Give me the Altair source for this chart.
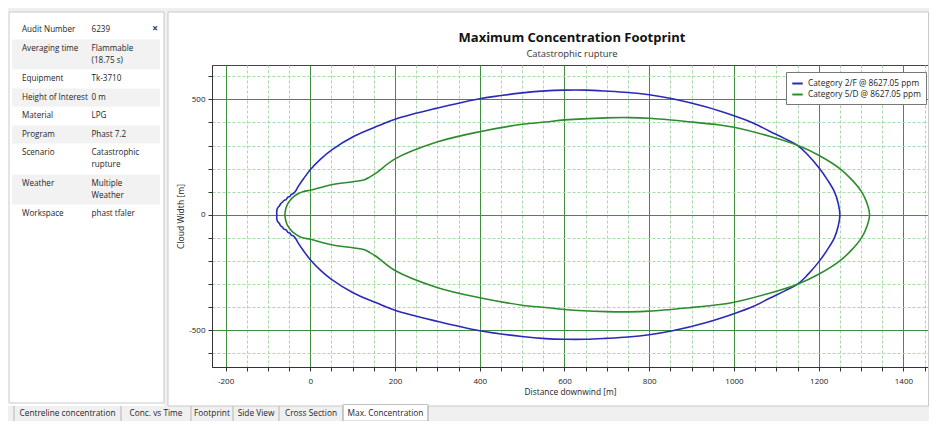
import altair as alt
import pandas as pd

# ---------------- data ----------------
SERIES = ["Category 2/F @ 8627.05 ppm", "Category 5/D @ 8627.05 ppm"]
COLORS = ["#2a2ab9", "#2e8b2e"]

# upper half of each footprint: distance downwind [m] -> cloud half-width [m]
blue_x = [-79, -79, -77, -73, -70, -66, -62, -57, -53, -48, -45, -40, -35, -28, -16, 0, 25, 50, 102, 156, 200,
          297, 400, 500, 555, 600, 650, 698, 750, 800, 855, 933, 1000, 1045, 1084, 1120, 1150, 1173, 1202, 1221,
          1237, 1246, 1250]
blue_y = [0, 18, 30, 38, 48, 54, 62, 66, 76, 80, 88, 92, 102, 124, 156, 195, 242, 280, 339, 382, 414,
          461, 503, 528, 537, 540, 540, 536, 530, 520, 503, 468, 429, 398, 362, 330, 301, 262, 200, 150,
          100, 50, 0]
green_x = [-60, -58, -54, -47, -39, -28, -16, 0, 50, 100, 128, 140, 155, 200, 297, 400, 500, 555, 600, 698,
           753, 800, 894, 967, 1000, 1084, 1150, 1201, 1250, 1279, 1301, 1314, 1320]
green_y = [0, 25, 45, 64, 79, 92, 101, 106, 130, 143, 152, 163, 180, 242, 314, 360, 392, 402, 411, 420,
           421, 418, 403, 389, 379, 340, 301, 257, 200, 150, 100, 50, 0]

x_ticks = list(range(-200, 1451, 50))
y_ticks = list(range(-600, 601, 100))
x_domain = [-232, 1458]
y_domain = [-660, 649]

title_text = "Maximum Concentration Footprint"
subtitle_text = "Catastrophic rupture"
x_title = "Distance downwind [m]"
y_title = "Cloud Width [m]"

info_labels = ["Audit Number", "Averaging time", "Equipment", "Height of Interest", "Material",
               "Program", "Scenario", "Weather", "Workspace"]
info_values = [["6239"], ["Flammable", "(18.75 s)"], ["Tk-3710"], ["0 m"], ["LPG"], ["Phast 7.2"],
               ["Catastrophic", "rupture"], ["Multiple", "Weather"], ["phast tfaler"]]
tab_names = ["Centreline concentration", "Conc. vs Time", "Footprint", "Side View", "Cross Section",
             "Max. Concentration"]

# ---------------- layout (page pixels) ----------------
FONT = "Open Sans"
PX0, PY0 = 212, 65          # plot-area origin on the page
W, H = 716, 302
SVG_W, SVG_H = 921, 413     # whole drawing, must fit inside the 8px page margins
MAJOR = "#3f8f3f"
MINOR = "#a9d9a9"
TAB_TOP, TAB_BOT = 406, 421


def rx(v):
    return v - PX0


def ry(v):
    return v - PY0


# ---------------- curves ----------------
rows = []
for name, xs, ys in ((SERIES[0], blue_x, blue_y), (SERIES[1], green_x, green_y)):
    upper = list(zip(xs, ys))
    lower = [(a, -b) for a, b in reversed(upper[:-1])]
    for i, (a, b) in enumerate(upper + lower):
        rows.append({"series": name, "x": a, "y": b, "i": i})
curves = pd.DataFrame(rows)

x_axis = alt.Axis(
    values=x_ticks, title=x_title,
    labelExpr="datum.value % 200 === 0 ? '' + datum.value : ''",
    labelOverlap=False, labelFlush=False, labelFont=FONT, labelFontSize=8, labelColor="#222",
    labelPadding=6, tickSize=4, tickColor="#333", domainColor="#333",
    titleFont=FONT, titleFontSize=8.4, titleFontWeight="normal", titleColor="#222", titlePadding=2,
    gridColor={"condition": {"test": "datum.value % 200 === 0", "value": MAJOR}, "value": MINOR},
    gridDash={"condition": {"test": "datum.value % 200 === 0", "value": []}, "value": [3, 2]},
    gridOpacity=1, gridWidth=1,
)
y_axis = alt.Axis(
    values=y_ticks, title=y_title,
    labelExpr="datum.value % 500 === 0 ? '' + datum.value : ''",
    labelOverlap=False, labelFlush=False, labelFont=FONT, labelFontSize=8, labelColor="#222",
    labelPadding=3, tickSize=4, tickColor="#333", domainColor="#333",
    titleFont=FONT, titleFontSize=8.6, titleFontWeight="normal", titleColor="#222", titlePadding=3,
    gridColor={"condition": {"test": "datum.value % 500 === 0", "value": MAJOR}, "value": MINOR},
    gridDash={"condition": {"test": "datum.value % 500 === 0", "value": []}, "value": [3, 2]},
    gridOpacity=1, gridWidth=1,
)

lines = alt.Chart(curves).mark_line(strokeWidth=1.6, clip=True, interpolate="catmull-rom").encode(
    x=alt.X("x:Q", scale=alt.Scale(domain=x_domain, nice=False, zero=False), axis=x_axis),
    y=alt.Y("y:Q", scale=alt.Scale(domain=y_domain, nice=False, zero=False), axis=y_axis),
    color=alt.Color(
        "series:N", scale=alt.Scale(domain=SERIES, range=COLORS), title=None,
        legend=alt.Legend(orient="none", legendX=rx(786), legendY=ry(72), fillColor="white",
                          strokeColor="#777", padding=5, labelFont=FONT, labelFontSize=8.3,
                          labelColor="#222", symbolType="stroke", symbolSize=110, symbolStrokeWidth=2,
                          rowPadding=0, labelOffset=4, labelLimit=300),
    ),
    order="i:Q",
)

# ---------------- surrounding application frame ----------------
def px(field):
    return alt.X(field, scale=None, axis=None)


def py(field):
    return alt.Y(field, scale=None, axis=None)


def rect_layer(boxes, **style):
    df = pd.DataFrame([{"a": rx(b[0]), "a2": rx(b[2]), "b": ry(b[1]), "b2": ry(b[3])} for b in boxes])
    return alt.Chart(df).mark_rect(**style).encode(x=px("a:Q"), x2="a2:Q", y=py("b:Q"), y2="b2:Q")


def text_layer(items, **style):
    df = pd.DataFrame([{"a": rx(t[0]), "b": ry(t[1]), "t": t[2]} for t in items])
    return alt.Chart(df).mark_text(**style).encode(x=px("a:Q"), y=py("b:Q"), text="t:N")


# gray window chrome (outside of the plot area only)
chrome = rect_layer([(8, 8, 929, 12), (8, TAB_TOP, 929, TAB_BOT), (164, 12, 168, TAB_TOP)], color="#f0f0f0")

# info panel rows
panel_texts, panel_bg = [], []
yc = 30.0
for k, (lab, vals) in enumerate(zip(info_labels, info_values)):
    top = yc - 9
    panel_texts.append((22, yc, lab))
    for j, v in enumerate(vals):
        panel_texts.append((91.5, yc + 12 * j, v))
    bottom = yc + 12 * (len(vals) - 1) + 9
    if k % 2 == 1:
        panel_bg.append((12, top, 160, bottom))
    yc += 18.5 + 12 * (len(vals) - 1)

panel_rows = rect_layer(panel_bg, color="#f2f2f2")
panel_box = rect_layer([(9, 12, 164, TAB_TOP - 3)], fillOpacity=0, stroke="#c9c9c9", strokeWidth=1)
chart_box = rect_layer([(168, 12, 928.5, TAB_TOP)], fillOpacity=0, stroke="#c9c9c9", strokeWidth=1)
panel_txt = text_layer(panel_texts, align="left", baseline="middle", font=FONT, fontSize=8.1, color="#1e1e1e")
close_txt = text_layer([(155, 29, "×")], align="center", baseline="middle", font=FONT, fontSize=10,
                       fontWeight="bold", color="#333")

# tabs
seps = [14, 121, 191, 233, 279, 343, 428]
sel_tab = rect_layer([(seps[-2], TAB_TOP - 1.5, seps[-1], TAB_BOT)], color="white", stroke="#c0c0c0",
                     strokeWidth=1)
tab_df = pd.DataFrame({"a": [rx(s) for s in seps], "b": [ry(TAB_TOP)] * len(seps),
                       "b2": [ry(TAB_BOT)] * len(seps)})
tab_seps = alt.Chart(tab_df).mark_rule(color="#b5b5b5", strokeWidth=1).encode(
    x=px("a:Q"), y=py("b:Q"), y2="b2:Q")
tab_txt = text_layer([((seps[i] + seps[i + 1]) / 2, (TAB_TOP + TAB_BOT) / 2 + 0.5, n)
                      for i, n in enumerate(tab_names)],
                     align="center", baseline="middle", font=FONT, fontSize=8.3, color="#1e1e1e")

# titles
title_txt = text_layer([(572, 37.5, title_text)], align="center", baseline="middle", font=FONT,
                       fontSize=13, fontWeight="bold", color="#111")
subtitle_txt = text_layer([(572, 53.5, subtitle_text)], align="center", baseline="middle",
                          font=FONT, fontSize=9.4, color="#333")

chart = alt.layer(
    chrome, panel_rows, panel_box, chart_box, sel_tab, tab_seps,
    lines,
    panel_txt, close_txt, tab_txt, title_txt, subtitle_txt,
).properties(
    width=W, height=H,
    autosize=alt.AutoSizeParams(type="none"),
    padding={"left": PX0 - 8, "top": PY0 - 8, "right": SVG_W - (PX0 - 8) - W,
             "bottom": SVG_H - (PY0 - 8) - H},
).configure(font=FONT, background="white").configure_view(stroke="#444", strokeWidth=1)

chart.save("out.html", embed_options={"renderer": "svg", "actions": False})
